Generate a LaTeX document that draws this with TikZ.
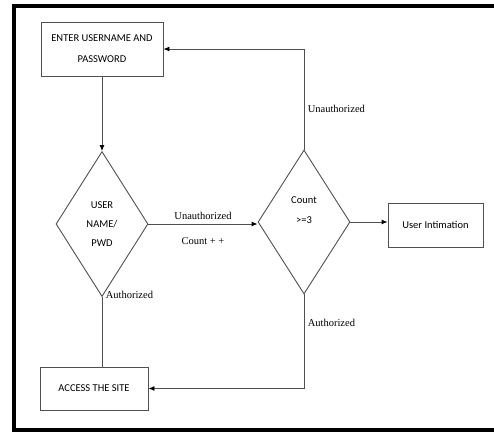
\documentclass[tikz,border=0pt]{standalone}
\usepackage{fontspec}
\setmainfont{Liberation Serif}
\newfontfamily\boxfont{Carlito}
\usepackage{tikz}
\usetikzlibrary{shapes.geometric,arrows.meta}
\definecolor{edgegray}{HTML}{505050}

\begin{document}
\begin{tikzpicture}[x=1pt,y=-1pt,
   every node/.style={font=\fontsize{10.5}{13}\selectfont},
   stepbox/.style={draw=edgegray,line width=0.9pt,fill=white,inner sep=0pt,align=center,
      font=\boxfont\fontsize{10.5}{21}\selectfont},
   decision/.style={diamond,draw=edgegray,line width=0.9pt,inner sep=0pt,align=center,
      minimum width=92pt,minimum height=145pt,font=\boxfont\fontsize{10.5}{19}\selectfont},
   flow/.style={draw=edgegray,line width=0.9pt},
   arr/.style={flow,-{Latex[length=6pt,width=5pt,black]}}]
      \useasboundingbox (0,0) rectangle (494,432);
      % Frame
      \draw[black,line width=4.5pt] (494,6) -- (14,6) -- (14,430) -- (494,430);
      % Boxes
      \node[stepbox,minimum width=122pt,minimum height=54pt] (enter) at (102,49)
         {ENTER USERNAME AND\\PASSWORD};
      \node[stepbox,minimum width=108pt,minimum height=43pt] (access) at (94,388.5)
         {ACCESS THE SITE};
      \node[stepbox,minimum width=95pt,minimum height=44pt] (intimation) at (435.5,225)
         {User Intimation};
      % Decisions
      \node[decision] (userpwd) at (102,224) {USER\\NAME/\\PWD};
      \node[decision,minimum height=144pt] (count) at (304,222) {};
      \node[align=center,font=\boxfont\fontsize{10.5}{20}\selectfont] (counttext) at (304,210)
         {Count\\>=3};
      % Connectors
      \draw[arr] (enter) -- (userpwd);
      \draw[arr] (userpwd.east) -- (userpwd.east -| count.west)
         node[midway,above=1pt] (lblunauth) {Unauthorized}
         node[midway,below=10pt] (lblcount) {Count + +};
      \draw[arr] (count.north) |- (enter.east)
         node[pos=0.2,right] (lblretry) {Unauthorized};
      \draw[arr] (count.east) -- (count.east -| intimation.west);
      \draw[flow] (userpwd.south) -- (userpwd.south |- access.north)
         node[pos=0,right,yshift=2pt] (lblok) {Authorized};
      \draw[arr] (count.south) |- (access.east)
         node[pos=0.15,right] (lblok2) {Authorized};
    \end{tikzpicture}
\end{document}
